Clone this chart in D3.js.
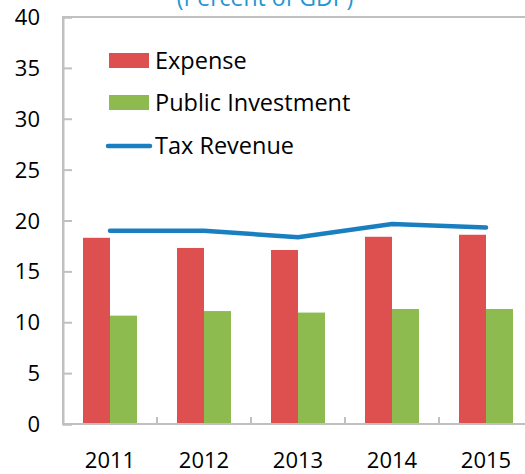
<!DOCTYPE html>
<html>
<head>
<meta charset="utf-8">
<script src="https://cdn.jsdelivr.net/npm/d3@7"></script>
<style>
  body { margin: 0; background: #fff; }
  svg { display: block; font-family: "Open Sans", "Noto Sans", sans-serif; }
</style>
</head>
<body>
<div id="chart"></div>
<script>
// data
var years = ['2011', '2012', '2013', '2014', '2015'];
var expense = [18.3, 17.3, 17.1, 18.4, 18.6];
var investment = [10.65, 11.1, 10.95, 11.3, 11.3];
var taxRevenue = [19.0, 19.0, 18.35, 19.65, 19.3];
var yTicks = [0, 5, 10, 15, 20, 25, 30, 35, 40];

var W = 525, H = 474;
var pLeft = 63, pTop = 17, pBottom = 424, pRight = 533;

var svg = d3.select('#chart').append('svg')
    .attr('width', W)
    .attr('height', H);

var x = d3.scaleBand().domain(years).range([pLeft, pRight]).padding(0);
var sub = d3.scaleBand().domain(['exp', 'inv'])
    .range([20, x.bandwidth() - 20]).padding(0);
var y = d3.scaleLinear().domain([0, 40]).range([pBottom, pTop]);

// title (cut off at the top)
svg.append('text')
    .attr('x', 265)
    .attr('y', 6)
    .attr('text-anchor', 'middle')
    .attr('font-size', '23px')
    .attr('fill', '#1f96d2')
    .text('(Percent of GDP)');

// frame
svg.append('rect')
    .attr('x', pLeft)
    .attr('y', pTop)
    .attr('width', pRight - pLeft)
    .attr('height', pBottom - pTop)
    .attr('fill', 'none')
    .attr('stroke', '#c0c0c0')
    .attr('stroke-width', 2);

// bars
svg.selectAll('rect.exp')
    .data(expense)
    .enter()
    .append('rect')
    .attr('class', 'exp')
    .attr('x', function(d, i){ return x(years[i]) + sub('exp'); })
    .attr('y', function(d){ return y(d); })
    .attr('width', sub.bandwidth())
    .attr('height', function(d){ return y(0) - y(d); })
    .attr('fill', '#de4f4f');

svg.selectAll('rect.inv')
    .data(investment)
    .enter()
    .append('rect')
    .attr('class', 'inv')
    .attr('x', function(d, i){ return x(years[i]) + sub('inv'); })
    .attr('y', function(d){ return y(d); })
    .attr('width', sub.bandwidth())
    .attr('height', function(d){ return y(0) - y(d); })
    .attr('fill', '#8dbb4f');

// tax revenue line
var line = d3.line()
    .x(function(d, i){ return x(years[i]) + x.bandwidth() / 2; })
    .y(function(d){ return y(d); });

svg.append('path')
    .datum(taxRevenue)
    .attr('d', line)
    .attr('fill', 'none')
    .attr('stroke', '#1a7fc1')
    .attr('stroke-width', 4.5)
    .attr('stroke-linecap', 'round');

// y axis
var yAxis = svg.append('g')
    .attr('transform', 'translate(' + pLeft + ',0)')
    .call(d3.axisRight(y).tickValues(yTicks).tickSize(9).tickFormat(''));
yAxis.select('.domain').attr('stroke', '#c0c0c0').attr('stroke-width', 2);
yAxis.selectAll('line').attr('stroke', '#c0c0c0').attr('stroke-width', 2);

svg.selectAll('text.ylab')
    .data(yTicks)
    .enter()
    .append('text')
    .attr('class', 'ylab')
    .attr('x', 40)
    .attr('y', function(d){ return y(d) + 8; })
    .attr('text-anchor', 'end')
    .attr('font-size', '22px')
    .attr('fill', '#000')
    .text(function(d){ return d; });

// x axis
var bounds = years.slice(1);
svg.selectAll('line.xtick')
    .data(bounds)
    .enter()
    .append('line')
    .attr('class', 'xtick')
    .attr('x1', function(d){ return x(d); })
    .attr('x2', function(d){ return x(d); })
    .attr('y1', pBottom)
    .attr('y2', pBottom - 7)
    .attr('stroke', '#c0c0c0')
    .attr('stroke-width', 2);

svg.append('line')
    .attr('x1', pLeft - 1)
    .attr('x2', W)
    .attr('y1', pBottom)
    .attr('y2', pBottom)
    .attr('stroke', '#c0c0c0')
    .attr('stroke-width', 2);

svg.selectAll('text.xlab')
    .data(years)
    .enter()
    .append('text')
    .attr('class', 'xlab')
    .attr('x', function(d){ return x(d) + x.bandwidth() / 2; })
    .attr('y', 468)
    .attr('text-anchor', 'middle')
    .attr('font-size', '22px')
    .attr('fill', '#000')
    .text(function(d){ return d; });

// legend
var legend = [
    {name: 'Expense', color: '#de4f4f', type: 'bar', y: 61},
    {name: 'Public Investment', color: '#8dbb4f', type: 'bar', y: 103},
    {name: 'Tax Revenue', color: '#1a7fc1', type: 'line', y: 146}
];

legend.forEach(function(d){
    if (d.type === 'bar') {
        svg.append('rect')
            .attr('x', 109).attr('y', d.y - 8)
            .attr('width', 40).attr('height', 15)
            .attr('fill', d.color);
    } else {
        svg.append('line')
            .attr('x1', 108).attr('x2', 150)
            .attr('y1', d.y).attr('y2', d.y)
            .attr('stroke', d.color)
            .attr('stroke-width', 4.5)
            .attr('stroke-linecap', 'round');
    }
    svg.append('text')
        .attr('x', 155)
        .attr('y', d.y + 8)
        .attr('font-size', '23.5px')
        .attr('fill', '#000')
        .text(d.name);
});
</script>
</body>
</html>
